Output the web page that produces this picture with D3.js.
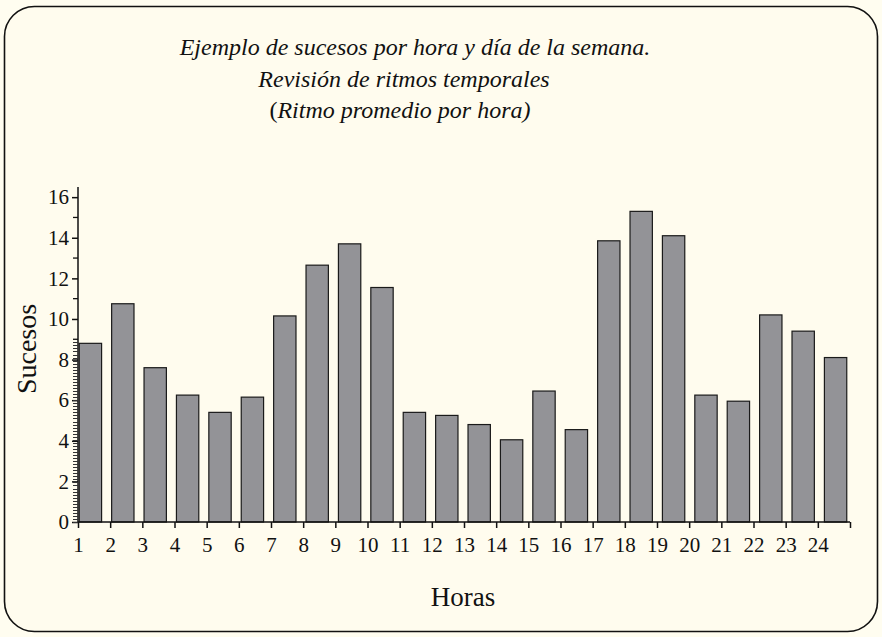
<!DOCTYPE html>
<html><head><meta charset="utf-8">
<script src="https://cdn.jsdelivr.net/npm/d3@7"></script>
<style>html,body{margin:0;padding:0;background:#fff;}svg{display:block;}
svg text{font-family:"Times New Roman","Liberation Serif",Times,Tinos,serif;}</style>
</head><body>
<script>
const hours = [1,2,3,4,5,6,7,8,9,10,11,12,13,14,15,16,17,18,19,20,21,22,23,24];
const sucesos = [8.8,10.75,7.6,6.25,5.4,6.15,10.15,12.65,13.7,11.55,5.4,5.25,4.8,4.05,6.45,4.55,13.85,15.3,14.1,6.25,5.95,10.2,9.4,8.1];
const yMajorTicks = [0,2,4,6,8,10,12,14,16];
const titleLines = ["Ejemplo de sucesos por hora y día de la semana.","Revisión de ritmos temporales","Ritmo promedio por hora)"];
const xLabel = "Horas", yLabel = "Sucesos";

(function () {
const W = 882, H = 637;
const svg = d3.select("body").append("svg").attr("width", W).attr("height", H);
svg.append("rect").attr("width", W).attr("height", H).attr("fill", "#fffdf0");
svg.append("rect").attr("x", 4.5).attr("y", 6.5).attr("width", 873).attr("height", 625)
  .attr("rx", 30).attr("ry", 30).attr("fill", "#fffcee").attr("stroke", "#111").attr("stroke-width", 1.6);

const pLeft = 78, pRight = 850, pBottom = 522, pTop = 187;
const y = d3.scaleLinear().domain([0, 16.5]).range([pBottom, pTop]);
const xLin = d3.scaleLinear().domain([1, 25]).range([pLeft, pRight]);
const xBand = d3.scaleBand().domain(hours).range([pLeft - 2, pRight]).paddingInner(0.31).paddingOuter(0.1);

// Title (lines are not exactly centred in the reference)
const t = svg.append("text").attr("text-anchor", "middle")
  .attr("font-size", 24).attr("fill", "#111");
t.append("tspan").attr("x", 415).attr("y", 55).attr("font-style", "italic").text(titleLines[0]);
t.append("tspan").attr("x", 404).attr("y", 87).attr("font-style", "italic").text(titleLines[1]);
const l3 = t.append("tspan").attr("x", 400).attr("y", 118);
l3.append("tspan").text("(");
l3.append("tspan").attr("font-style", "italic").text(titleLines[2]);

// Bars
svg.append("g").selectAll("rect").data(hours).join("rect")
  .attr("x", d => xBand(d)).attr("width", xBand.bandwidth())
  .attr("y", (d, i) => y(sucesos[i])).attr("height", (d, i) => pBottom - y(sucesos[i]))
  .attr("fill", "#939397").attr("stroke", "#1a1a1a").attr("stroke-width", 1.2);

// Y axis
const yAxisG = svg.append("g").attr("transform", `translate(${pLeft},0)`)
  .call(d3.axisLeft(y).tickValues(yMajorTicks).tickSize(6).tickPadding(3).tickFormat(d3.format("d")));
yAxisG.attr("font-family", null);
yAxisG.select(".domain").attr("d", `M0,${pTop}V${pBottom}`).attr("stroke", "#111").attr("stroke-width", 1.5);
yAxisG.selectAll(".tick line").attr("stroke", "#111").attr("stroke-width", 1.5);
yAxisG.selectAll(".tick text").attr("font-size", 21).attr("fill", "#111");
const minorOdd = [9,11,13,15];
svg.append("g").selectAll("line").data(minorOdd).join("line")
  .attr("x1", pLeft - 5).attr("x2", pLeft).attr("y1", d => y(d)).attr("y2", d => y(d))
  .attr("stroke", "#111").attr("stroke-width", 1.3);
const dense = d3.range(0, 9, 0.15);
svg.append("g").selectAll("line").data(dense).join("line")
  .attr("x1", pLeft - 5).attr("x2", pLeft).attr("y1", d => Math.round(y(d)) + 0.5).attr("y2", d => Math.round(y(d)) + 0.5)
  .attr("stroke", "#333").attr("stroke-width", 1);

// X axis
const xAxisG = svg.append("g").attr("transform", `translate(0,${pBottom})`)
  .call(d3.axisBottom(xLin).tickValues(d3.range(1, 26)).tickSize(6).tickPadding(9)
    .tickFormat(d => d <= 24 ? d : ""));
xAxisG.attr("font-family", null);
xAxisG.select(".domain").attr("d", `M${pLeft},0H${pRight}`).attr("stroke", "#111").attr("stroke-width", 1.5);
xAxisG.selectAll(".tick line").attr("stroke", "#111").attr("stroke-width", 1.5);
xAxisG.selectAll(".tick text").attr("font-size", 21).attr("fill", "#111");

// Axis labels
svg.append("text").attr("x", 463).attr("y", 606).attr("text-anchor", "middle")
  .attr("font-size", 27).attr("fill", "#111").text(xLabel);
svg.append("text").attr("transform", `translate(36,349) rotate(-90)`).attr("text-anchor", "middle")
  .attr("font-size", 28).attr("fill", "#111").text(yLabel);
})();
</script>
</body></html>
